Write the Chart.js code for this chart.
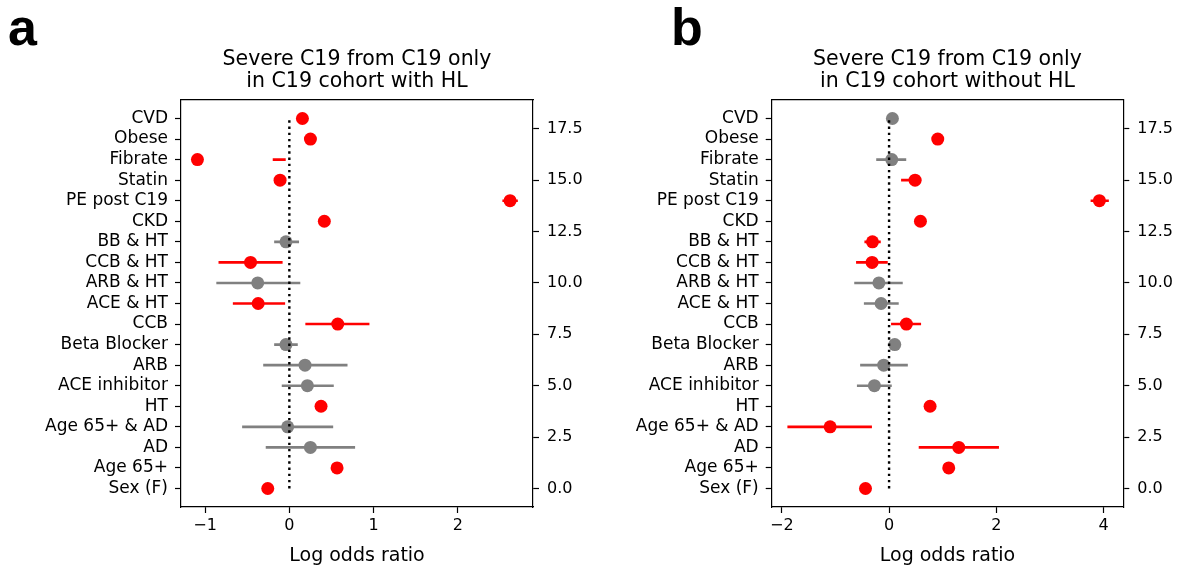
<!DOCTYPE html>
<html><head><meta charset="utf-8">
<script src="https://cdn.jsdelivr.net/npm/chart.js@4.4.0/dist/chart.umd.min.js"></script>
<style>
html,body{margin:0;padding:0;background:#fff;}
#wrap{position:relative;width:1178px;height:567px;overflow:hidden;background:#fff;}
.panel{position:absolute;top:0;width:589px;height:567px;}
.letter{position:absolute;top:1px;font:bold 52px 'Liberation Sans',Arial,sans-serif;line-height:52px;color:#000;}
</style></head><body>
<div id="wrap">
<div class="panel" style="left:0"><canvas id="ca" width="589" height="567"></canvas></div>
<div class="panel" style="left:589px"><canvas id="cb" width="589" height="567"></canvas></div>
<div class="letter" style="left:8px">a</div>
<div class="letter" style="left:671px">b</div>
</div>
<script>
// ---- data (index 0 = bottom row) ----
const categories = ['Sex (F)','Age 65+','AD','Age 65+ & AD','HT','ACE inhibitor','ARB','Beta Blocker','CCB','ACE & HT','ARB & HT','CCB & HT','BB & HT','CKD','PE post C19','Statin','Fibrate','Obese','CVD'];

// Panel a: with HL
const estA = [-0.256, 0.566, 0.25, -0.02, 0.376, 0.214, 0.186, -0.04, 0.574, -0.37, -0.375, -0.46, -0.04, 0.415, 2.618, -0.11, -1.09, 0.25, 0.155];
const loA  = [-0.30, 0.52, -0.28, -0.56, 0.33, -0.09, -0.31, -0.18, 0.19, -0.67, -0.866, -0.84, -0.18, 0.37, 2.527, -0.15, -0.197, 0.20, 0.11];
const hiA  = [-0.21, 0.61, 0.78, 0.52, 0.42, 0.527, 0.69, 0.10, 0.95, -0.05, 0.13, -0.08, 0.115, 0.46, 2.71, -0.07, -0.043, 0.30, 0.20];
const sigA = [1,1,0,0,1,0,0,0,1,1,0,1,0,1,1,1,1,1,1];

// Panel b: without HL
const estB = [-0.44, 1.113, 1.30, -1.10, 0.765, -0.274, -0.10, 0.106, 0.323, -0.149, -0.19, -0.317, -0.31, 0.585, 3.924, 0.485, 0.05, 0.908, 0.062];
const loB  = [-0.49, 1.06, 0.553, -1.897, 0.71, -0.60, -0.54, 0.05, 0.037, -0.47, -0.65, -0.616, -0.46, 0.53, 3.76, 0.224, -0.24, 0.86, 0.02];
const hiB  = [-0.39, 1.17, 2.05, -0.32, 0.82, 0.05, 0.35, 0.16, 0.597, 0.18, 0.255, -0.025, -0.155, 0.64, 4.10, 0.60, 0.32, 0.96, 0.10];
const sigB = [1,1,1,1,1,0,0,0,1,0,0,1,1,1,1,1,0,1,0];

const xTicksA = [-1, 0, 1, 2];
const xTicksB = [-2, 0, 2, 4];
const rightTicks = [0, 2.5, 5, 7.5, 10, 12.5, 15, 17.5];
const titleA = ['Severe C19 from C19 only', 'in C19 cohort with HL'];
const titleB = ['Severe C19 from C19 only', 'in C19 cohort without HL'];
const xLabel = 'Log odds ratio';

// ---- styling ----
const RED = '#ff0000', GRAY = '#808080';
const FAM = "'DejaVu Sans', sans-serif";
Chart.defaults.font.family = FAM;
Chart.defaults.color = '#000';

function minusFmt(v){ return v < 0 ? '\u2212' + Math.abs(v) : String(v); }

function bars(lo, hi, sig, want){
  const d = [];
  for (let i = 0; i < lo.length; i++){
    if ((sig[i] ? 1 : 0) !== want) continue;
    d.push({x: lo[i], y: i}, {x: hi[i], y: i}, {x: null, y: null});
  }
  return d;
}

function makePanel(id, est, lo, hi, sig, title, xTicks, xMin, xMax, leftW, rightW){
  const axisCommon = {
    grid: {drawOnChartArea: false, drawTicks: true, tickLength: 6, tickColor: '#000', tickWidth: 1.2},
    border: {display: true, color: '#000', width: 1.2}
  };
  new Chart(document.getElementById(id), {
    type: 'scatter',
    data: {
      datasets: [
        {type: 'line', data: [{x: 0, y: 0}, {x: 0, y: categories.length - 1}], borderColor: '#000',
         borderWidth: 2.4, borderDash: [2.4, 3.8], borderCapStyle: 'butt', pointRadius: 0, order: 0},
        {type: 'scatter', data: est.map((v, i) => ({x: v, y: i})), pointRadius: 6.5, pointBorderWidth: 0,
         pointBackgroundColor: sig.map(s => s ? RED : GRAY), pointBorderColor: sig.map(s => s ? RED : GRAY), order: 1},
        {type: 'line', data: bars(lo, hi, sig, 1), borderColor: RED, borderWidth: 2.6, pointRadius: 0, spanGaps: false, order: 2},
        {type: 'line', data: bars(lo, hi, sig, 0), borderColor: GRAY, borderWidth: 2.6, pointRadius: 0, spanGaps: false, order: 2}
      ]
    },
    options: {
      responsive: false, animation: false,
      layout: {padding: 0},
      plugins: {
        legend: {display: false}, tooltip: {enabled: false},
        title: {display: true, text: title, fullSize: false, color: '#000',
                font: {size: 20.5, family: FAM, weight: 'normal', lineHeight: 1.073},
                padding: {top: 49, bottom: 7}}
      },
      scales: {
        x: Object.assign({}, axisCommon, {
          type: 'linear', position: 'bottom', min: xMin, max: xMax,
          afterBuildTicks: s => { s.ticks = xTicks.map(v => ({value: v})); },
          ticks: {callback: v => minusFmt(v), font: {size: 16}, color: '#000', padding: 3, maxRotation: 0, autoSkip: false},
          title: {display: true, text: xLabel, color: '#000', font: {size: 19, family: FAM, lineHeight: 1}, padding: {top: 0, bottom: 1.5}},
          afterFit: s => { s.height = 60; }
        }),
        x2: {
          type: 'linear', position: 'top', display: true,
          ticks: {display: false}, grid: {display: false, drawTicks: false},
          border: {display: true, color: '#000', width: 1.2},
          afterFit: s => { s.height = 0; }
        },
        y: Object.assign({}, axisCommon, {
          type: 'linear', position: 'left', min: -0.9, max: 18.9,
          afterBuildTicks: s => { s.ticks = categories.map((c, i) => ({value: i})); },
          ticks: {callback: v => categories[v], font: {size: 17}, color: '#000', padding: 7, autoSkip: false},
          afterFit: s => { s.width = leftW; }
        }),
        y2: Object.assign({}, axisCommon, {
          type: 'linear', position: 'right', min: -0.9, max: 18.9,
          afterBuildTicks: s => { s.ticks = rightTicks.map(v => ({value: v})); },
          ticks: {callback: v => v.toFixed(1), font: {size: 16}, color: '#000', padding: 8, autoSkip: false},
          afterFit: s => { s.width = rightW; }
        })
      }
    }
  });
}

makePanel('ca', estA, loA, hiA, sigA, titleA, xTicksA, -1.285, 2.89, 181, 56);
makePanel('cb', estB, loB, hiB, sigB, titleB, xTicksB, -2.19, 4.37, 182.7, 54.7);
</script>
</body></html>
